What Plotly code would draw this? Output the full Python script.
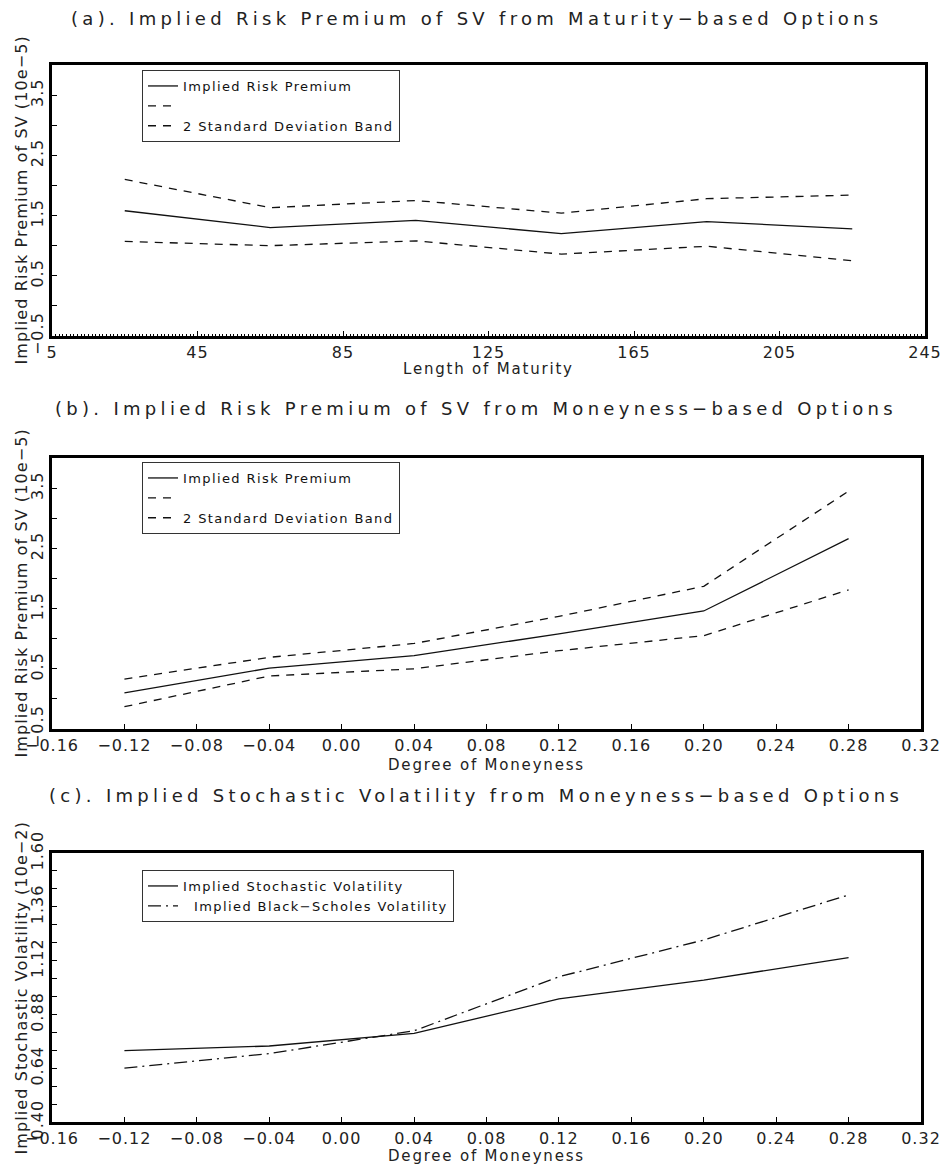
import plotly.graph_objects as go

# ---------------- data ----------------
maturity = [25, 65, 105, 145, 185, 225]
mat_premium = [1.58, 1.30, 1.42, 1.20, 1.40, 1.28]
mat_upper = [2.10, 1.63, 1.75, 1.54, 1.78, 1.84]
mat_lower = [1.07, 1.00, 1.08, 0.86, 0.99, 0.75]

moneyness = [-0.12, -0.04, 0.04, 0.12, 0.20, 0.28]
mon_premium = [0.10, 0.51, 0.72, 1.08, 1.46, 2.66]
mon_upper = [0.33, 0.69, 0.92, 1.37, 1.87, 3.45]
mon_lower = [-0.13, 0.38, 0.50, 0.80, 1.05, 1.81]

stoch_vol = [0.718, 0.739, 0.795, 0.949, 1.033, 1.133]
bs_vol = [0.640, 0.705, 0.807, 1.048, 1.212, 1.413]

x_ticks_a = [5, 45, 85, 125, 165, 205, 245]
x_ticks_bc = [-0.16, -0.12, -0.08, -0.04, 0.00, 0.04, 0.08, 0.12, 0.16, 0.20, 0.24, 0.28, 0.32]
y_ticks_ab = [-0.5, 0.5, 1.5, 2.5, 3.5]
y_ticks_c = [0.40, 0.64, 0.88, 1.12, 1.36, 1.60]

titles = [
    "(a). Implied Risk Premium of SV from Maturity\u2212based Options",
    "(b). Implied Risk Premium of SV from Moneyness\u2212based Options",
    "(c). Implied Stochastic Volatility from Moneyness\u2212based Options",
]
x_titles = ["Length of Maturity", "Degree of Moneyness", "Degree of Moneyness"]
y_titles = [
    "Implied Risk Premium of SV (10e\u22125)",
    "Implied Risk Premium of SV (10e\u22125)",
    "Implied Stochastic Volatility (10e\u22122)",
]

# ---------------- layout geometry (pixels) ----------------
W, H = 946, 1167
FONT = "DejaVu Sans"
LC = "#111111"
TC = "#222222"
panels = [  # left, right, top, bottom
    (52, 925, 65, 336),
    (52, 921, 458, 729),
    (52, 921, 853, 1122),
]
title_y = [18, 409, 795]
xtitle_y = [369, 765, 1156]


def px_x(p):
    return p / W


def px_y(p):
    return 1 - p / H


def spaced(text, ls):
    return f'<span style="letter-spacing:{ls}px">{text}</span>'


fig = go.Figure()

dash_style = "8px,7px"
dashdot_style = "13px,5px,2px,5px"

# panel a
fig.add_trace(go.Scatter(x=maturity, y=mat_premium, mode="lines", name=spaced("Implied Risk Premium", 1.4),
                         line=dict(color=LC, width=1.3), xaxis="x", yaxis="y", legend="legend"))
fig.add_trace(go.Scatter(x=maturity, y=mat_upper, mode="lines", name=" ",
                         line=dict(color=LC, width=1.3, dash=dash_style), xaxis="x", yaxis="y", legend="legend"))
fig.add_trace(go.Scatter(x=maturity, y=mat_lower, mode="lines", name=spaced("2 Standard Deviation Band", 1.4),
                         line=dict(color=LC, width=1.3, dash=dash_style), xaxis="x", yaxis="y", legend="legend"))
# panel b
fig.add_trace(go.Scatter(x=moneyness, y=mon_premium, mode="lines", name=spaced("Implied Risk Premium", 1.4),
                         line=dict(color=LC, width=1.3), xaxis="x2", yaxis="y2", legend="legend2"))
fig.add_trace(go.Scatter(x=moneyness, y=mon_upper, mode="lines", name=" ",
                         line=dict(color=LC, width=1.3, dash=dash_style), xaxis="x2", yaxis="y2", legend="legend2"))
fig.add_trace(go.Scatter(x=moneyness, y=mon_lower, mode="lines", name=spaced("2 Standard Deviation Band", 1.4),
                         line=dict(color=LC, width=1.3, dash=dash_style), xaxis="x2", yaxis="y2", legend="legend2"))
# panel c
fig.add_trace(go.Scatter(x=moneyness, y=stoch_vol, mode="lines", name=spaced("Implied Stochastic Volatility", 1.4),
                         line=dict(color=LC, width=1.3), xaxis="x3", yaxis="y3", legend="legend3"))
fig.add_trace(go.Scatter(x=moneyness, y=bs_vol, mode="lines",
                         name=spaced("  Implied Black\u2212Scholes Volatility", 1.4),
                         line=dict(color=LC, width=1.3, dash=dashdot_style), xaxis="x3", yaxis="y3", legend="legend3"))

axis_common = dict(showline=True, linewidth=3, linecolor="black", mirror=True, showgrid=False,
                   zeroline=False, ticks="inside", tickcolor="black", ticklen=5, tickwidth=1,
                   automargin=False,
                   tickfont=dict(family=FONT, size=16, color=TC))

layout = dict(width=W, height=H, margin=dict(l=0, r=0, t=0, b=0, pad=0, autoexpand=False),
              paper_bgcolor="white", plot_bgcolor="white", showlegend=True,
              font=dict(family=FONT, color=TC))

x_ranges = [[5, 245], [-0.16, 0.32], [-0.16, 0.32]]
y_ranges = [[-0.5, 4.0], [-0.5, 4.0], [0.40, 1.60]]
x_tickvals = [x_ticks_a, x_ticks_bc, x_ticks_bc]
x_ticktext = [[spaced(str(v), 1) for v in x_ticks_a],
              [spaced(f"{v:.2f}".replace("-", "\u2212"), 1) for v in x_ticks_bc],
              [spaced(f"{v:.2f}".replace("-", "\u2212"), 1) for v in x_ticks_bc]]
y_tickvals = [y_ticks_ab, y_ticks_ab, y_ticks_c]
y_ticktext = [[spaced(f"{v:.1f}".replace("-", "\u2212"), 1) for v in y_ticks_ab],
              [spaced(f"{v:.1f}".replace("-", "\u2212"), 1) for v in y_ticks_ab],
              [spaced(f"{v:.2f}", 1) for v in y_ticks_c]]
x_minor = [dict(ticks="inside", ticklen=2, tickcolor="black", tickmode="linear", tick0=5, dtick=1),
           None, None]
y_minor = [dict(ticks="inside", ticklen=5, tickcolor="black", tickmode="linear", tick0=-0.5, dtick=0.5),
           dict(ticks="inside", ticklen=5, tickcolor="black", tickmode="linear", tick0=-0.5, dtick=0.5),
           dict(ticks="inside", ticklen=5, tickcolor="black", tickmode="linear", tick0=0.40, dtick=0.08)]

annotations = []
for i, (l, r, t, b) in enumerate(panels):
    sfx = "" if i == 0 else str(i + 1)
    xa = dict(axis_common, domain=[px_x(l), px_x(r)], range=x_ranges[i], anchor="y" + sfx,
              tickmode="array", tickvals=x_tickvals[i], ticktext=x_ticktext[i])
    if x_minor[i]:
        xa["minor"] = x_minor[i]
    ya = dict(axis_common, domain=[px_y(b), px_y(t)], range=y_ranges[i], anchor="x" + sfx,
              tickmode="array", tickvals=y_tickvals[i], ticktext=y_ticktext[i], tickangle=-90,
              minor=y_minor[i])
    layout["xaxis" + sfx] = xa
    layout["yaxis" + sfx] = ya
    annotations.append(dict(text=spaced(titles[i], 4.3), xref="paper", yref="paper", x=px_x(476),
                            y=px_y(title_y[i]), xanchor="center", yanchor="middle", showarrow=False,
                            font=dict(family=FONT, size=18, color=TC)))
    annotations.append(dict(text=spaced(x_titles[i], 1.8), xref="paper", yref="paper", x=px_x((l + r) / 2),
                            y=px_y(xtitle_y[i]), xanchor="center", yanchor="middle", showarrow=False,
                            font=dict(family=FONT, size=15, color=TC)))
    annotations.append(dict(text=spaced(y_titles[i], 1.1), xref="paper", yref="paper", x=px_x(21),
                            y=px_y((t + b) / 2), xanchor="center", yanchor="middle", showarrow=False,
                            textangle=-90, font=dict(family=FONT, size=16, color=TC)))

legend_common = dict(xanchor="left", yanchor="top", bgcolor="white", bordercolor="#333",
                     borderwidth=1, font=dict(family=FONT, size=13, color="#111"),
                     tracegroupgap=0, itemwidth=30)
layout["legend"] = dict(legend_common, x=px_x(142), y=px_y(70))
layout["legend2"] = dict(legend_common, x=px_x(142), y=px_y(462))
layout["legend3"] = dict(legend_common, x=px_x(142), y=px_y(870))
layout["annotations"] = annotations

fig.update_layout(**layout)
fig.write_html("out.html", config={"displayModeBar": False},
               post_script="document.body.style.margin='0px';")
